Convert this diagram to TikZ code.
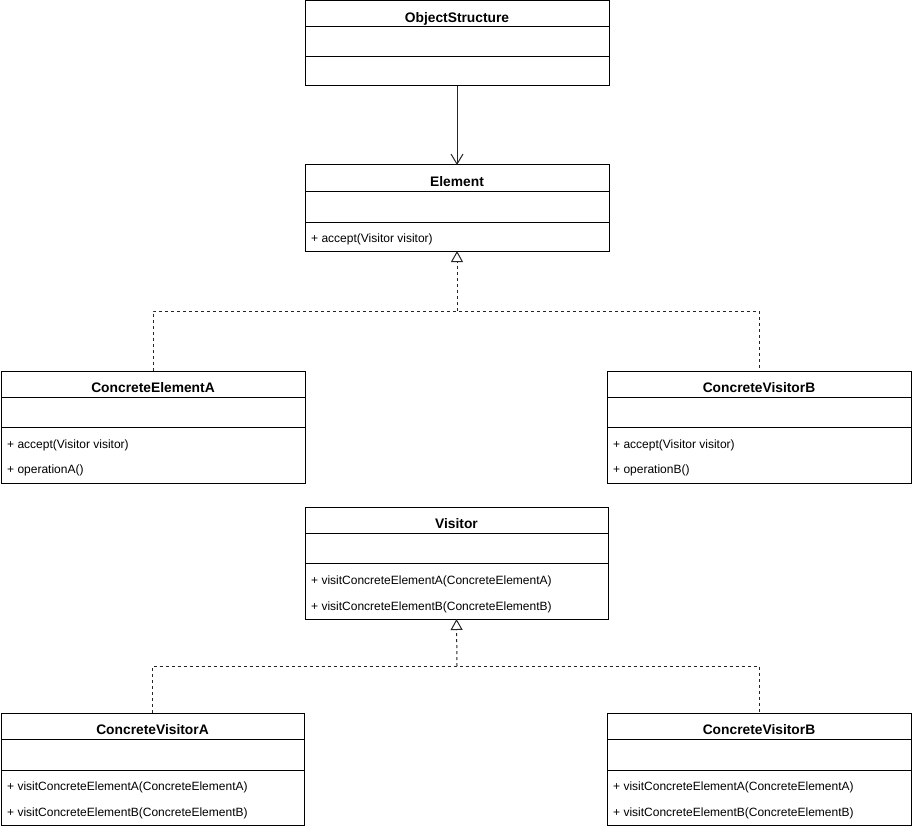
\documentclass[tikz,border=0pt]{standalone}
\usepackage{fontspec}
\setmainfont{Liberation Sans}
\usetikzlibrary{arrows.meta}
\tikzset{
  ttl/.style={draw, line width=1pt, outer sep=0pt, minimum height=26pt, inner sep=0pt, text height=17pt, text depth=0pt, anchor=north west, font=\bfseries\fontsize{13.8}{16}\selectfont},
  cmp/.style={draw, line width=1pt, outer sep=0pt, inner sep=0pt, anchor=north},
  mth/.style={anchor=west, inner sep=0pt, font=\fontsize{12}{14}\selectfont},
  assoc/.style={line width=1pt, draw=black!85, -{Straight Barb[length=10pt,width=12pt,line width=1pt]}},
  realz/.style={line width=1pt, draw=black!85, dash pattern=on 3pt off 3pt},
  tri/.style={line width=1pt, draw=black!85, dash pattern=on 3pt off 3pt, -{Triangle[open,length=11pt,width=12pt,line width=1pt,fill=white]}}
}
\newcommand\umlclass[7]{%
  \node[ttl, minimum width=#4pt] (#1) at (#2,#3) {#5};
  \node[cmp, minimum width=#4pt, minimum height=#6pt] (#1a) at (#1.south) {};
  \node[cmp, minimum width=#4pt, minimum height=#7pt] (#1m) at (#1a.south) {};
}
\begin{document}
\begin{tikzpicture}[x=1pt,y=-1pt]
\useasboundingbox (0,0) rectangle (912,829);
\umlclass{os}{305}{1}{304}{ObjectStructure}{30}{29}
\umlclass{el}{305}{165}{304}{Element}{31}{29}
\umlclass{cea}{1}{371}{304}{ConcreteElementA}{30}{56}
\umlclass{ceb}{607}{371}{304}{ConcreteVisitorB}{30}{56}
\umlclass{vi}{305}{507}{303}{Visitor}{30}{56}
\umlclass{cva}{1}{713}{303}{ConcreteVisitorA}{31}{55}
\umlclass{cvb}{607}{713}{304}{ConcreteVisitorB}{31}{55}

\node[mth] (el1) at ([xshift=6pt,yshift=-17pt]elm.north west) {+ accept(Visitor visitor)};
\node[mth] (cea1) at ([xshift=6pt,yshift=-18.5pt]ceam.north west) {+ accept(Visitor visitor)};
\node[mth] (cea2) at ([xshift=6pt,yshift=-43.5pt]ceam.north west) {+ operationA()};
\node[mth] (ceb1) at ([xshift=6pt,yshift=-18.5pt]cebm.north west) {+ accept(Visitor visitor)};
\node[mth] (ceb2) at ([xshift=6pt,yshift=-43.5pt]cebm.north west) {+ operationB()};
\node[mth] (vi1) at ([xshift=6pt,yshift=-18.5pt]vim.north west) {+ visitConcreteElementA(ConcreteElementA)};
\node[mth] (vi2) at ([xshift=6pt,yshift=-44.5pt]vim.north west) {+ visitConcreteElementB(ConcreteElementB)};
\node[mth] (cva1) at ([xshift=6pt,yshift=-17.5pt]cvam.north west) {+ visitConcreteElementA(ConcreteElementA)};
\node[mth] (cva2) at ([xshift=6pt,yshift=-43.5pt]cvam.north west) {+ visitConcreteElementB(ConcreteElementB)};
\node[mth] (cvb1) at ([xshift=6pt,yshift=-17.5pt]cvbm.north west) {+ visitConcreteElementA(ConcreteElementA)};
\node[mth] (cvb2) at ([xshift=6pt,yshift=-43.5pt]cvbm.north west) {+ visitConcreteElementB(ConcreteElementB)};

\coordinate (j1) at (457,311);
\coordinate (j2) at (457,666);

\draw[assoc] (osm.south) -- (el.north);
\draw[realz] (cea.north) |- (j1) -| (ceb.north);
\draw[tri] (j1) -- (elm.south);
\draw[realz] (cva.north) |- (j2) -| (cvb.north);
\draw[tri] (j2) -- (vim.south);
\end{tikzpicture}
\end{document}
